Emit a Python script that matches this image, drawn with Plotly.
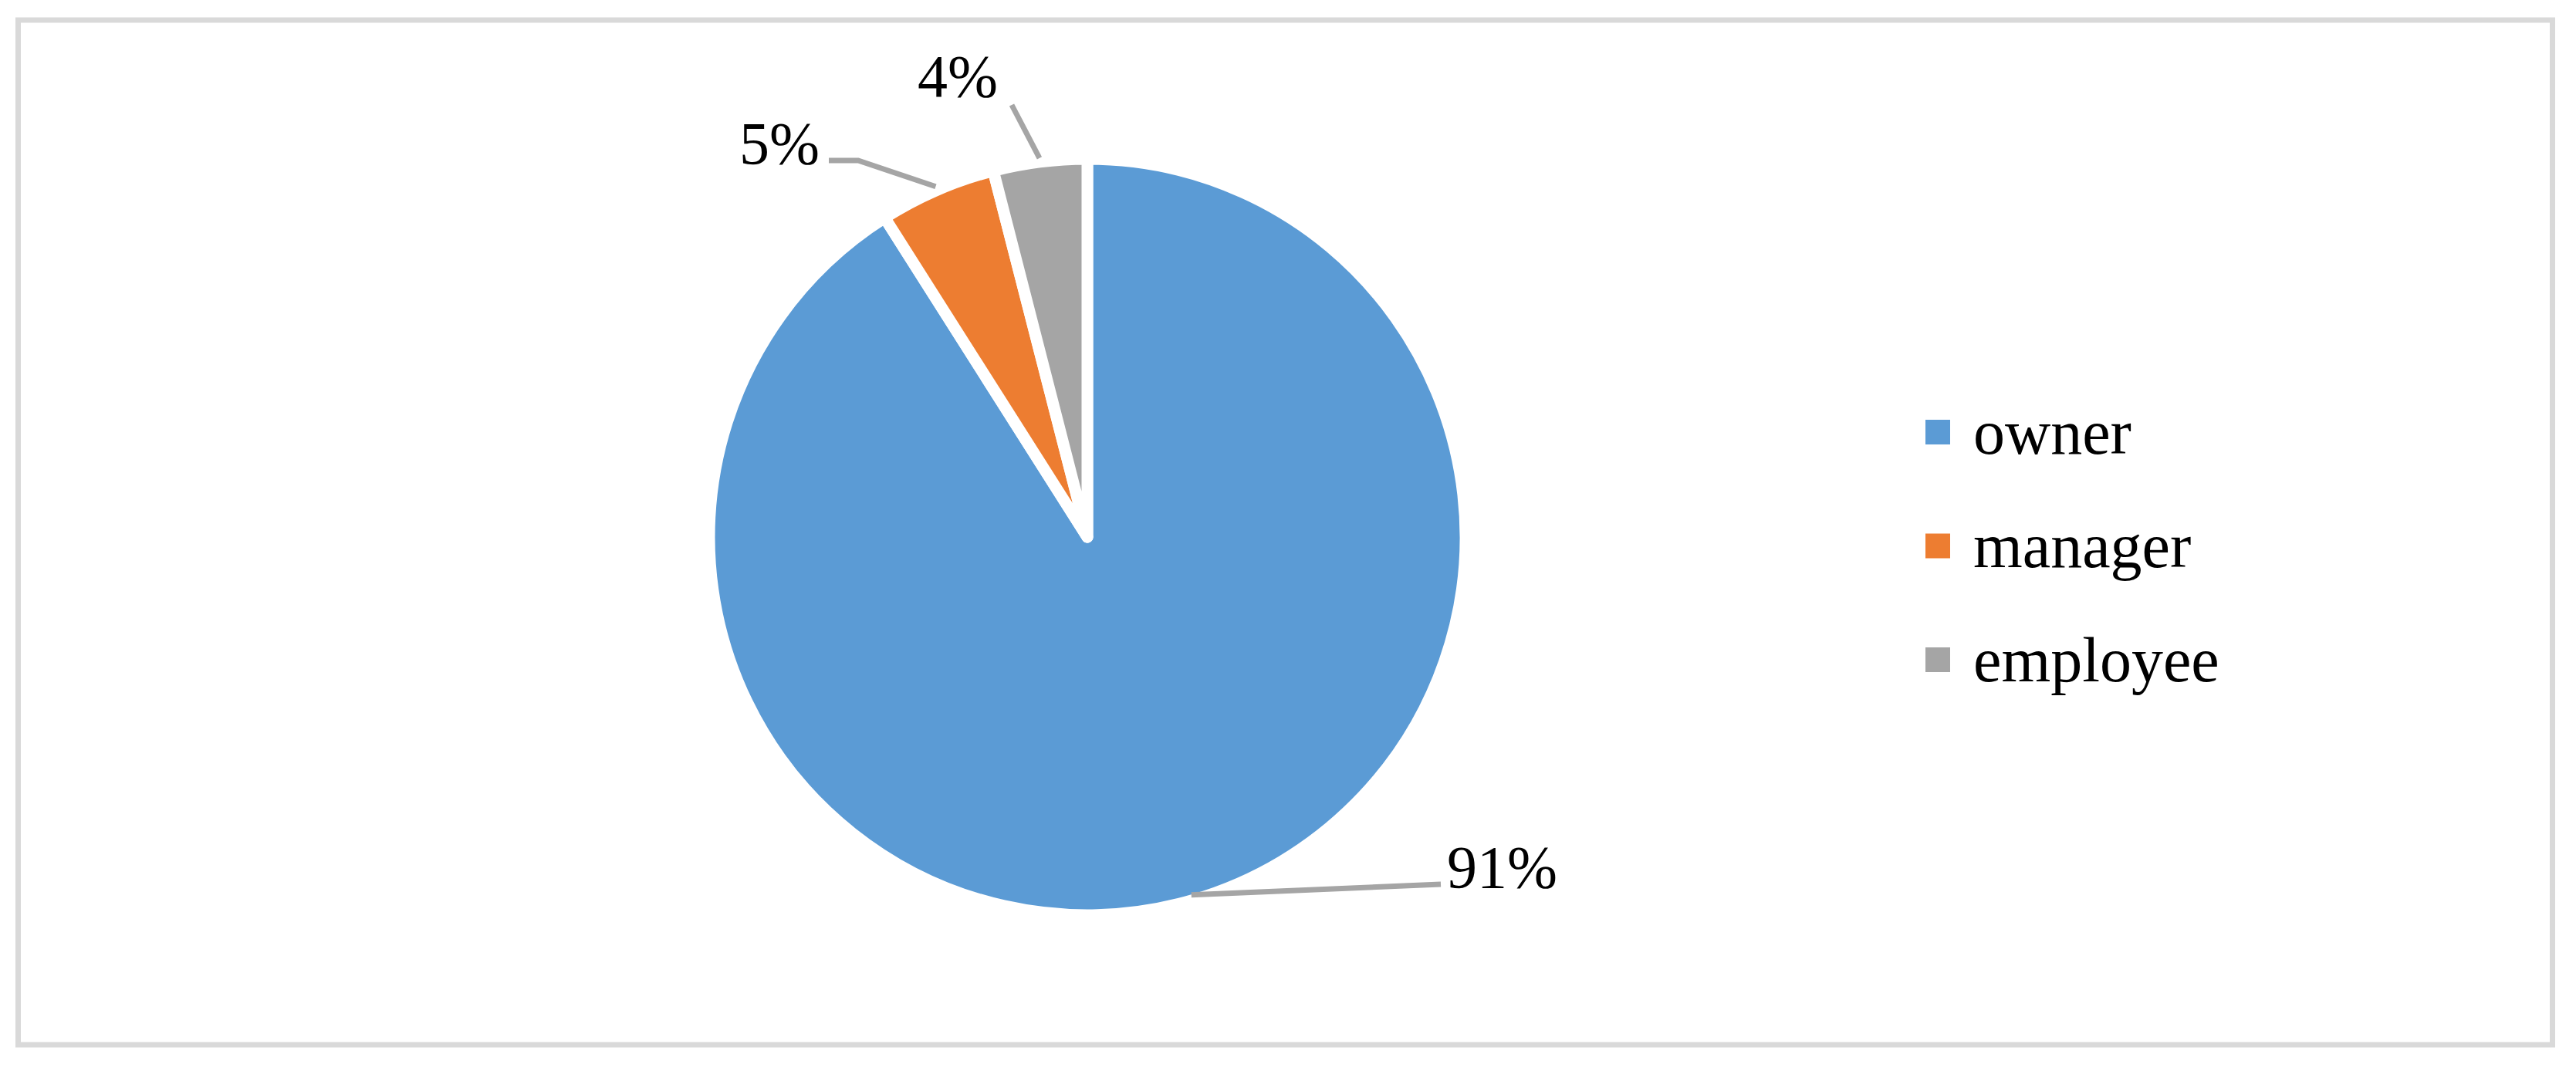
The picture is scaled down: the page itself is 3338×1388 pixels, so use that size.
import math
import plotly.graph_objects as go

# ---- data ----
categories = ["owner", "manager", "employee"]
values = [91, 5, 4]
colors = ["#5B9BD5", "#ED7D31", "#A5A5A5"]

# ---- layout (pixels) ----
W, H = 3338, 1388
CX, CY, R = 1409, 696, 490          # pie centre and radius (incl. white stroke)
GAP = 15                             # white separator width
LABEL_FONT = 78
LEGEND_FONT = 82
# label centres and leader-line paths (start point computed from data)
label_pos = [(1946, 1123), (1010, 185), (1241, 98)]
leader_start_r = [483, 495, 495]
leader_tail = [[(1867, 1146)], [(1112, 208), (1074, 208)], [(1311, 136)]]
legend_x, legend_y0, legend_dy, legend_sq = 2495, 560, 147.5, 32


def px(x):
    return x / W


def py(y):
    return 1 - y / H


fig = go.Figure()
fig.add_trace(go.Pie(
    labels=categories,
    values=values,
    sort=False,
    direction="clockwise",
    rotation=0,
    marker=dict(colors=colors, line=dict(color="white", width=GAP)),
    textinfo="none",
    hoverinfo="label+percent",
    showlegend=False,
    domain=dict(x=[px(CX - R), px(CX + R)], y=[py(CY + R), py(CY - R)]),
))

shapes = []
annotations = []
total = sum(values)
cum = 0
for i, v in enumerate(values):
    theta = 2 * math.pi * (cum + v / 2) / total
    cum += v
    sx = CX + leader_start_r[i] * math.sin(theta)
    sy = CY - leader_start_r[i] * math.cos(theta)
    path = f"M {px(sx)},{py(sy)}"
    for (tx, ty) in leader_tail[i]:
        path += f" L {px(tx)},{py(ty)}"
    shapes.append(dict(type="path", xref="paper", yref="paper", path=path,
                       line=dict(color="#A5A5A5", width=7)))
    lx, ly = label_pos[i]
    annotations.append(dict(x=px(lx), y=py(ly), xref="paper", yref="paper",
                            text=f"{round(100 * v / total)}%", showarrow=False,
                            xanchor="center", yanchor="middle",
                            font=dict(family="Liberation Serif", size=LABEL_FONT, color="black")))

# legend (manual, squares + text)
for i, cat in enumerate(categories):
    cy = legend_y0 + i * legend_dy
    shapes.append(dict(type="rect", xref="paper", yref="paper",
                       x0=px(legend_x), x1=px(legend_x + legend_sq),
                       y0=py(cy + legend_sq / 2), y1=py(cy - legend_sq / 2),
                       fillcolor=colors[i], line=dict(width=0)))
    annotations.append(dict(x=px(legend_x + 60), y=py(cy), xref="paper", yref="paper",
                            text=cat, showarrow=False, xanchor="left", yanchor="middle",
                            font=dict(family="Liberation Serif", size=LEGEND_FONT, color="black")))

# outer border
shapes.append(dict(type="rect", xref="paper", yref="paper",
                   x0=px(23.5), x1=px(3307.5), y0=py(1354), y1=py(26),
                   line=dict(color="#D9D9D9", width=7), fillcolor="rgba(0,0,0,0)"))

fig.update_layout(
    width=W, height=H, autosize=False,
    margin=dict(l=0, r=0, t=0, b=0),
    paper_bgcolor="white", plot_bgcolor="white",
    shapes=shapes, annotations=annotations,
    showlegend=False,
)

fig.write_html("out.html",
               config={"displayModeBar": False},
               post_script="document.body.style.margin='0';document.body.style.overflow='hidden';")
